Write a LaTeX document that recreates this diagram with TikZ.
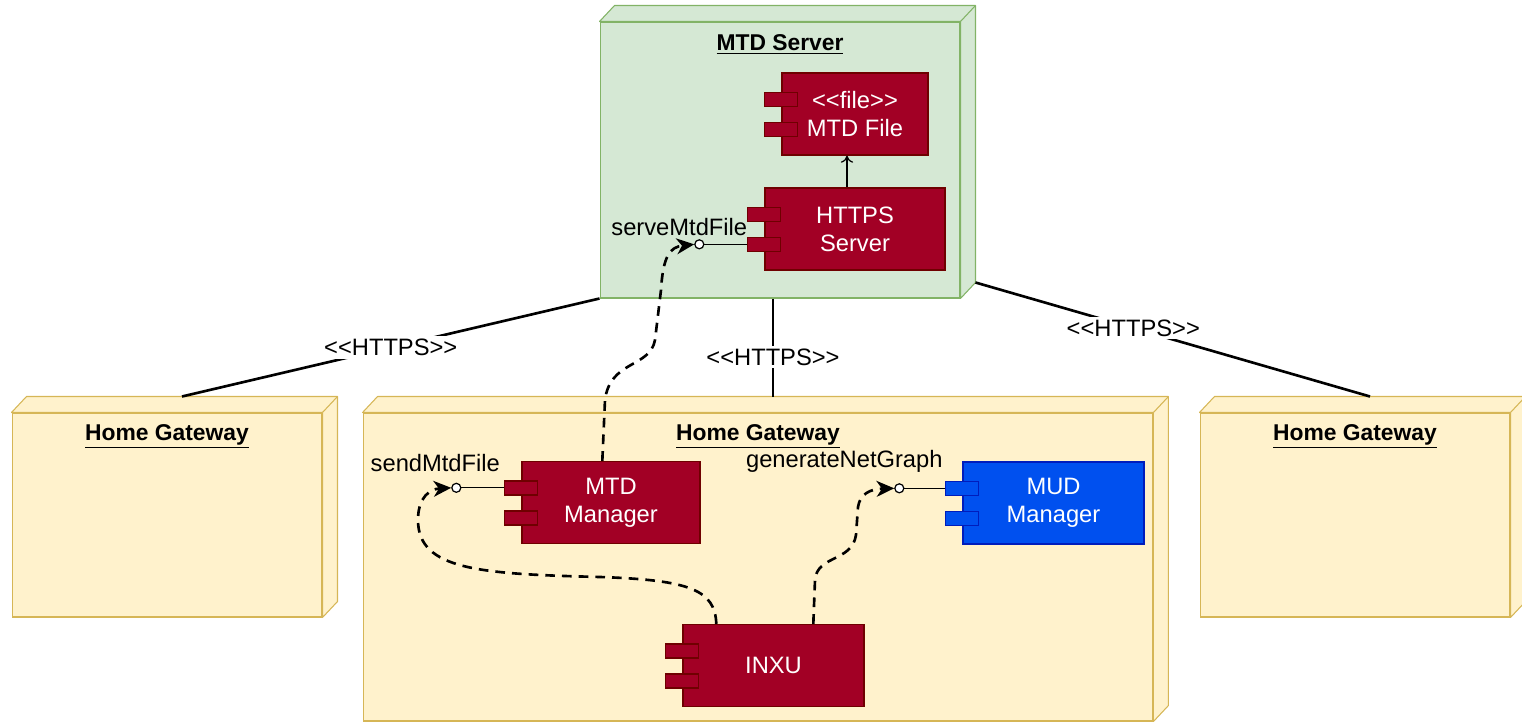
\documentclass[tikz,border=0pt]{standalone}
\usepackage{fontspec}
\setmainfont{Liberation Sans}
\usetikzlibrary{arrows.meta,calc}

\definecolor{srvfill}{HTML}{D5E8D4}
\definecolor{srvline}{HTML}{82B366}
\definecolor{gwfill}{HTML}{FFF2CC}
\definecolor{gwline}{HTML}{D6B656}
\definecolor{redfill}{HTML}{A20025}
\definecolor{redline}{HTML}{6F0000}
\definecolor{bluefill}{HTML}{0050EF}
\definecolor{blueline}{HTML}{001DBC}

% <<...>> without guillemet ligatures
\newcommand{\stereo}[1]{<\kern0pt<#1>\kern0pt>}

% top and right side of a 3d node
\newcommand{\boxsides}[2]{%
  \filldraw[#2] (#1.north west) -- ++(15,-16) -- ($(#1.north east)+(15,-16)$)
    -- ($(#1.south east)+(15,-16)$) -- (#1.south east) -- (#1.north east) -- cycle;
  \draw[#2] (#1.north east) -- ++(15,-16);
}

% the two tabs of a component
\newcommand{\comptabs}[2]{%
  \filldraw[#2] ($(#1.north west)+(-17,20)$) rectangle ++(33,14);
  \filldraw[#2] ($(#1.north west)+(-17,50)$) rectangle ++(33,14);
}

\tikzset{
  node3d/.style={rectangle, line width=0.6pt, inner sep=0},
  gwnode/.style={node3d, fill=gwfill, draw=gwline},
  srvnode/.style={node3d, fill=srvfill, draw=srvline},
  gwside/.style={fill=gwfill, draw=gwline, line width=0.6pt, line join=round},
  srvside/.style={fill=srvfill, draw=srvline, line width=0.6pt, line join=round},
  comp/.style={rectangle, line width=0.8pt, minimum height=1.64cm, align=center,
    text=white, inner sep=0, font=\fontsize{13.5}{16}\selectfont},
  redcomp/.style={comp, fill=redfill, draw=redline},
  bluecomp/.style={comp, fill=bluefill, draw=blueline},
  redtab/.style={fill=redfill, draw=redline, line width=0.8pt},
  bluetab/.style={fill=bluefill, draw=blueline, line width=0.8pt},
  nodetitle/.style={font=\fontsize{13}{15}\selectfont\bfseries},
  lolli/.style={circle, draw, fill=white, inner sep=0, minimum size=0.18cm, line width=0.7pt},
  ifline/.style={line width=0.7pt},
  call/.style={line width=1.5pt, dash pattern=on 5.5pt off 4pt,
    -{Stealth[length=10pt,width=9pt,inset=3pt]}},
  link/.style={line width=1.5pt},
  lbl/.style={fill=white, inner sep=1.5pt},
}

\begin{document}
\begin{tikzpicture}[x=0.02cm, y=-0.02cm, font=\fontsize{13.5}{16}\selectfont]
\useasboundingbox (0,0) rectangle (1522,723);

% gateways
\node[gwnode, minimum width=6.2cm, minimum height=4.08cm] (gwl) at (167,515) {};
\boxsides{gwl}{gwside}
\node[gwnode, minimum width=15.8cm, minimum height=6.16cm] (gwm) at (758,567) {};
\boxsides{gwm}{gwside}
\node[gwnode, minimum width=6.2cm, minimum height=4.08cm] (gwr) at (1355,515) {};
\boxsides{gwr}{gwside}

\node[nodetitle] (gwlT) at ($(gwl.north)+(0,24)$) {\underline{Home Gateway}};
\node[nodetitle] (gwmT) at ($(gwm.north)+(0,24)$) {\underline{Home Gateway}};
\node[nodetitle] (gwrT) at ($(gwr.north)+(0,24)$) {\underline{Home Gateway}};

% server
\node[srvnode, minimum width=7.2cm, minimum height=5.52cm] (srv) at (780,160) {};
\boxsides{srv}{srvside}
\node[nodetitle] (srvT) at ($(srv.north)+(0,23)$) {\underline{MTD Server}};

% links
\coordinate (gwmtop) at ($(gwm.north)+(15,-16)$);
\draw[link] (srv.south west) -- node[lbl] {\stereo{HTTPS}} ($(gwl.north)+(15,-16)$);
\draw[link] (gwmtop |- srv.south) -- node[lbl, pos=0.6] {\stereo{HTTPS}} (gwmtop);
\draw[link] ($(srv.south east)+(15,-16)$) -- node[lbl, pos=0.4] {\stereo{HTTPS}} ($(gwr.north)+(15,-16)$);

% components
\node[redcomp, minimum width=2.92cm] (mtdfile) at (855,114) {\stereo{file}\\MTD File};
\comptabs{mtdfile}{redtab}
\node[redcomp, minimum width=3.6cm] (https) at (855,229) {HTTPS\\Server};
\comptabs{https}{redtab}
\node[redcomp, minimum width=3.56cm] (mtdm) at (611,502.5) {MTD\\Manager};
\comptabs{mtdm}{redtab}
\node[bluecomp, minimum width=3.62cm] (mud) at (1053.5,503) {MUD\\Manager};
\comptabs{mud}{bluetab}
\node[redcomp, minimum width=3.62cm] (inxu) at (773.5,665.5) {INXU};
\comptabs{inxu}{redtab}

\draw[ifline, -{To[length=4pt,width=7pt]}] ($(https.north)+(-8,0)$) -- ($(mtdfile.south)+(-8,0)$);

% provided interfaces
\node[lolli] (serve) at ($(https.north west)+(-65,57)$) {};
\draw[ifline] (serve) -- ($(https.north west)+(-17,57)$);
\node (serveT) at ($(serve)+(-20,-17)$) {serveMtdFile};

\node[lolli] (send) at ($(mtdm.north west)+(-65,27)$) {};
\draw[ifline] (send) -- ($(mtdm.north west)+(-17,27)$);
\node (sendT) at ($(send)+(-21,-25)$) {sendMtdFile};

\node[lolli] (gen) at ($(mud.north west)+(-63,27)$) {};
\draw[ifline] (gen) -- ($(mud.north west)+(-17,27)$);
\node (genT) at ($(gen)+(-55,-27)$) {generateNetGraph};

% calls
\draw[call] ($(mtdm.north west)+(81,0)$) -- (605,400)
  .. controls (610,360) and (650,368) .. (655,340) -- (661,290)
  .. controls (663,256) and (670,247) .. (serve.west);
\draw[call] ($(inxu.north west)+(34,0)$) .. controls (715,590) and (690,580) .. (600,577)
  .. controls (480,574) and (418,570) .. (418,520)
  .. controls (418,497) and (430,489) .. (send.west);
\draw[call] ($(inxu.north west)+(131,0)$) -- (815,580)
  .. controls (817,555) and (852,562) .. (856,535) -- (858,507)
  .. controls (860,494) and (870,489) .. (gen.west);

\end{tikzpicture}
\end{document}
